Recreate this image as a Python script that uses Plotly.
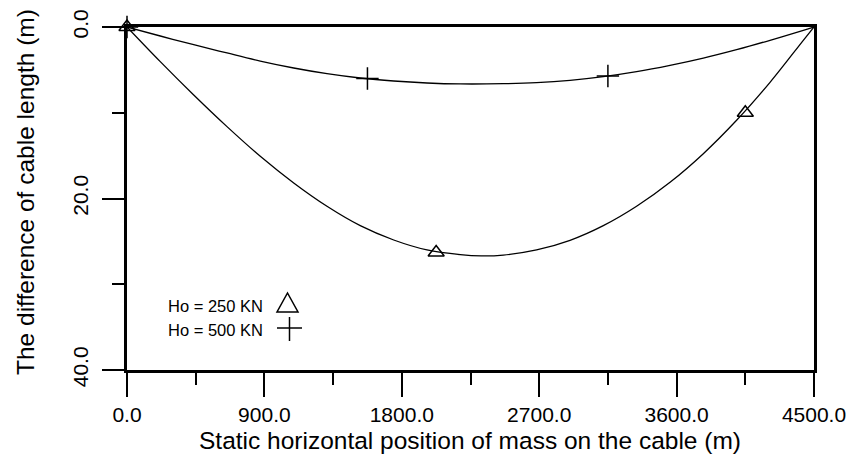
import plotly.graph_objects as go

# ---- data ----
x_250 = [0, 218, 437, 655, 873, 1092, 1310, 1528, 1747, 1965, 2183, 2320, 2465, 2683, 2902, 3120, 3338, 3557, 3775, 3993, 4212, 4430, 4500]
y_250 = [0, 4.04, 7.93, 11.62, 15.08, 18.19, 20.91, 23.17, 24.84, 26.0, 26.55, 26.7, 26.6, 26.0, 24.88, 23.17, 20.91, 18.11, 14.77, 10.88, 6.45, 1.55, 0]

x_500 = [0, 218, 437, 655, 873, 1092, 1310, 1528, 1747, 1965, 2183, 2465, 2683, 2902, 3120, 3338, 3557, 3775, 3993, 4212, 4430, 4500]
y_500 = [0, 1.05, 2.06, 3.03, 3.97, 4.78, 5.44, 5.95, 6.30, 6.53, 6.64, 6.61, 6.49, 6.22, 5.79, 5.21, 4.47, 3.62, 2.64, 1.55, 0.39, 0]

tri_x = [0, 2025, 4050]
tri_y = [0, 26.3, 10.0]
plus_x = [0, 1575, 3150]
plus_y = [0, 6.0, 5.72]

legend_labels = ["Ho = 250 KN", "Ho = 500 KN"]
x_title = "Static horizontal position of mass on the cable (m)"
y_title = "The difference of cable length (m)"

# ---- layout constants ----
W, H = 850, 457
L, R, T, B = 127, 814, 27, 370
FONT = "Liberation Sans, Arial, sans-serif"

def px(x):
    return (x - L) / (R - L)

def py(y):
    return (B - y) / (B - T)

fig = go.Figure()
fig.add_trace(go.Scatter(x=x_250, y=y_250, mode="lines", line=dict(color="black", width=1.3, shape="spline", smoothing=1), hoverinfo="skip"))
fig.add_trace(go.Scatter(x=x_500, y=y_500, mode="lines", line=dict(color="black", width=1.3, shape="spline", smoothing=1), hoverinfo="skip"))
fig.add_trace(go.Scatter(x=tri_x, y=tri_y, mode="markers", cliponaxis=False,
                         marker=dict(symbol="triangle-up-open", size=14, color="black", line=dict(width=1.5, color="black"))))
fig.add_trace(go.Scatter(x=plus_x, y=plus_y, mode="markers", cliponaxis=False,
                         marker=dict(symbol="cross-thin", size=16, color="black", line=dict(width=1.5, color="black"))))

# legend (drawn manually: text then symbol)
fig.add_annotation(x=px(166), y=py(306), xref="paper", yref="paper", text=legend_labels[0], showarrow=False,
                   xanchor="left", yanchor="middle", font=dict(family=FONT, size=16.5, color="black"))
fig.add_annotation(x=px(166), y=py(330), xref="paper", yref="paper", text=legend_labels[1], showarrow=False,
                   xanchor="left", yanchor="middle", font=dict(family=FONT, size=16.5, color="black"))
tri_path = "M {:.5f},{:.5f} L {:.5f},{:.5f} L {:.5f},{:.5f} Z".format(px(277), py(312), px(298), py(312), px(287.5), py(293))
fig.add_shape(type="path", path=tri_path, xref="paper", yref="paper", line=dict(color="black", width=1.5))
fig.add_shape(type="line", x0=px(277), x1=px(302), y0=py(328), y1=py(328), xref="paper", yref="paper", line=dict(color="black", width=1.5))
fig.add_shape(type="line", x0=px(289.5), x1=px(289.5), y0=py(317), y1=py(341), xref="paper", yref="paper", line=dict(color="black", width=1.5))

# axis titles
fig.add_annotation(x=px(470), y=py(441), xref="paper", yref="paper", text=x_title, showarrow=False,
                   xanchor="center", yanchor="middle", font=dict(family=FONT, size=24.5, color="black"))
fig.add_annotation(x=px(25), y=py(192), xref="paper", yref="paper", text=y_title, showarrow=False, textangle=-90,
                   xanchor="center", yanchor="middle", font=dict(family=FONT, size=24.5, color="black"))

fig.update_layout(
    width=W, height=H,
    margin=dict(l=L, r=W - R, t=T, b=H - B, autoexpand=False),
    paper_bgcolor="white", plot_bgcolor="white",
    showlegend=False,
    font=dict(family=FONT, color="black"),
)
fig.update_xaxes(
    range=[0, 4500], tickmode="linear", tick0=0, dtick=900, tickformat=".1f",
    ticks="outside", ticklen=24, tickwidth=2, tickcolor="black",
    minor=dict(dtick=450, ticks="outside", ticklen=12, tickwidth=2, tickcolor="black"),
    showline=True, linewidth=2.5, linecolor="black", mirror=True,
    showgrid=False, zeroline=False, automargin=False,
    tickfont=dict(family=FONT, size=21),
)
fig.update_yaxes(
    range=[40, 0], tickmode="linear", tick0=0, dtick=20, tickformat=".1f",
    ticks="outside", ticklen=22, tickwidth=2, tickcolor="black",
    minor=dict(dtick=10, ticks="outside", ticklen=12, tickwidth=2, tickcolor="black"),
    showline=True, linewidth=3, linecolor="black", mirror=True,
    showgrid=False, zeroline=False, tickangle=-90, automargin=False,
    ticklabelstandoff=6,
    tickfont=dict(family=FONT, size=21),
)

fig.write_html("out.html")
